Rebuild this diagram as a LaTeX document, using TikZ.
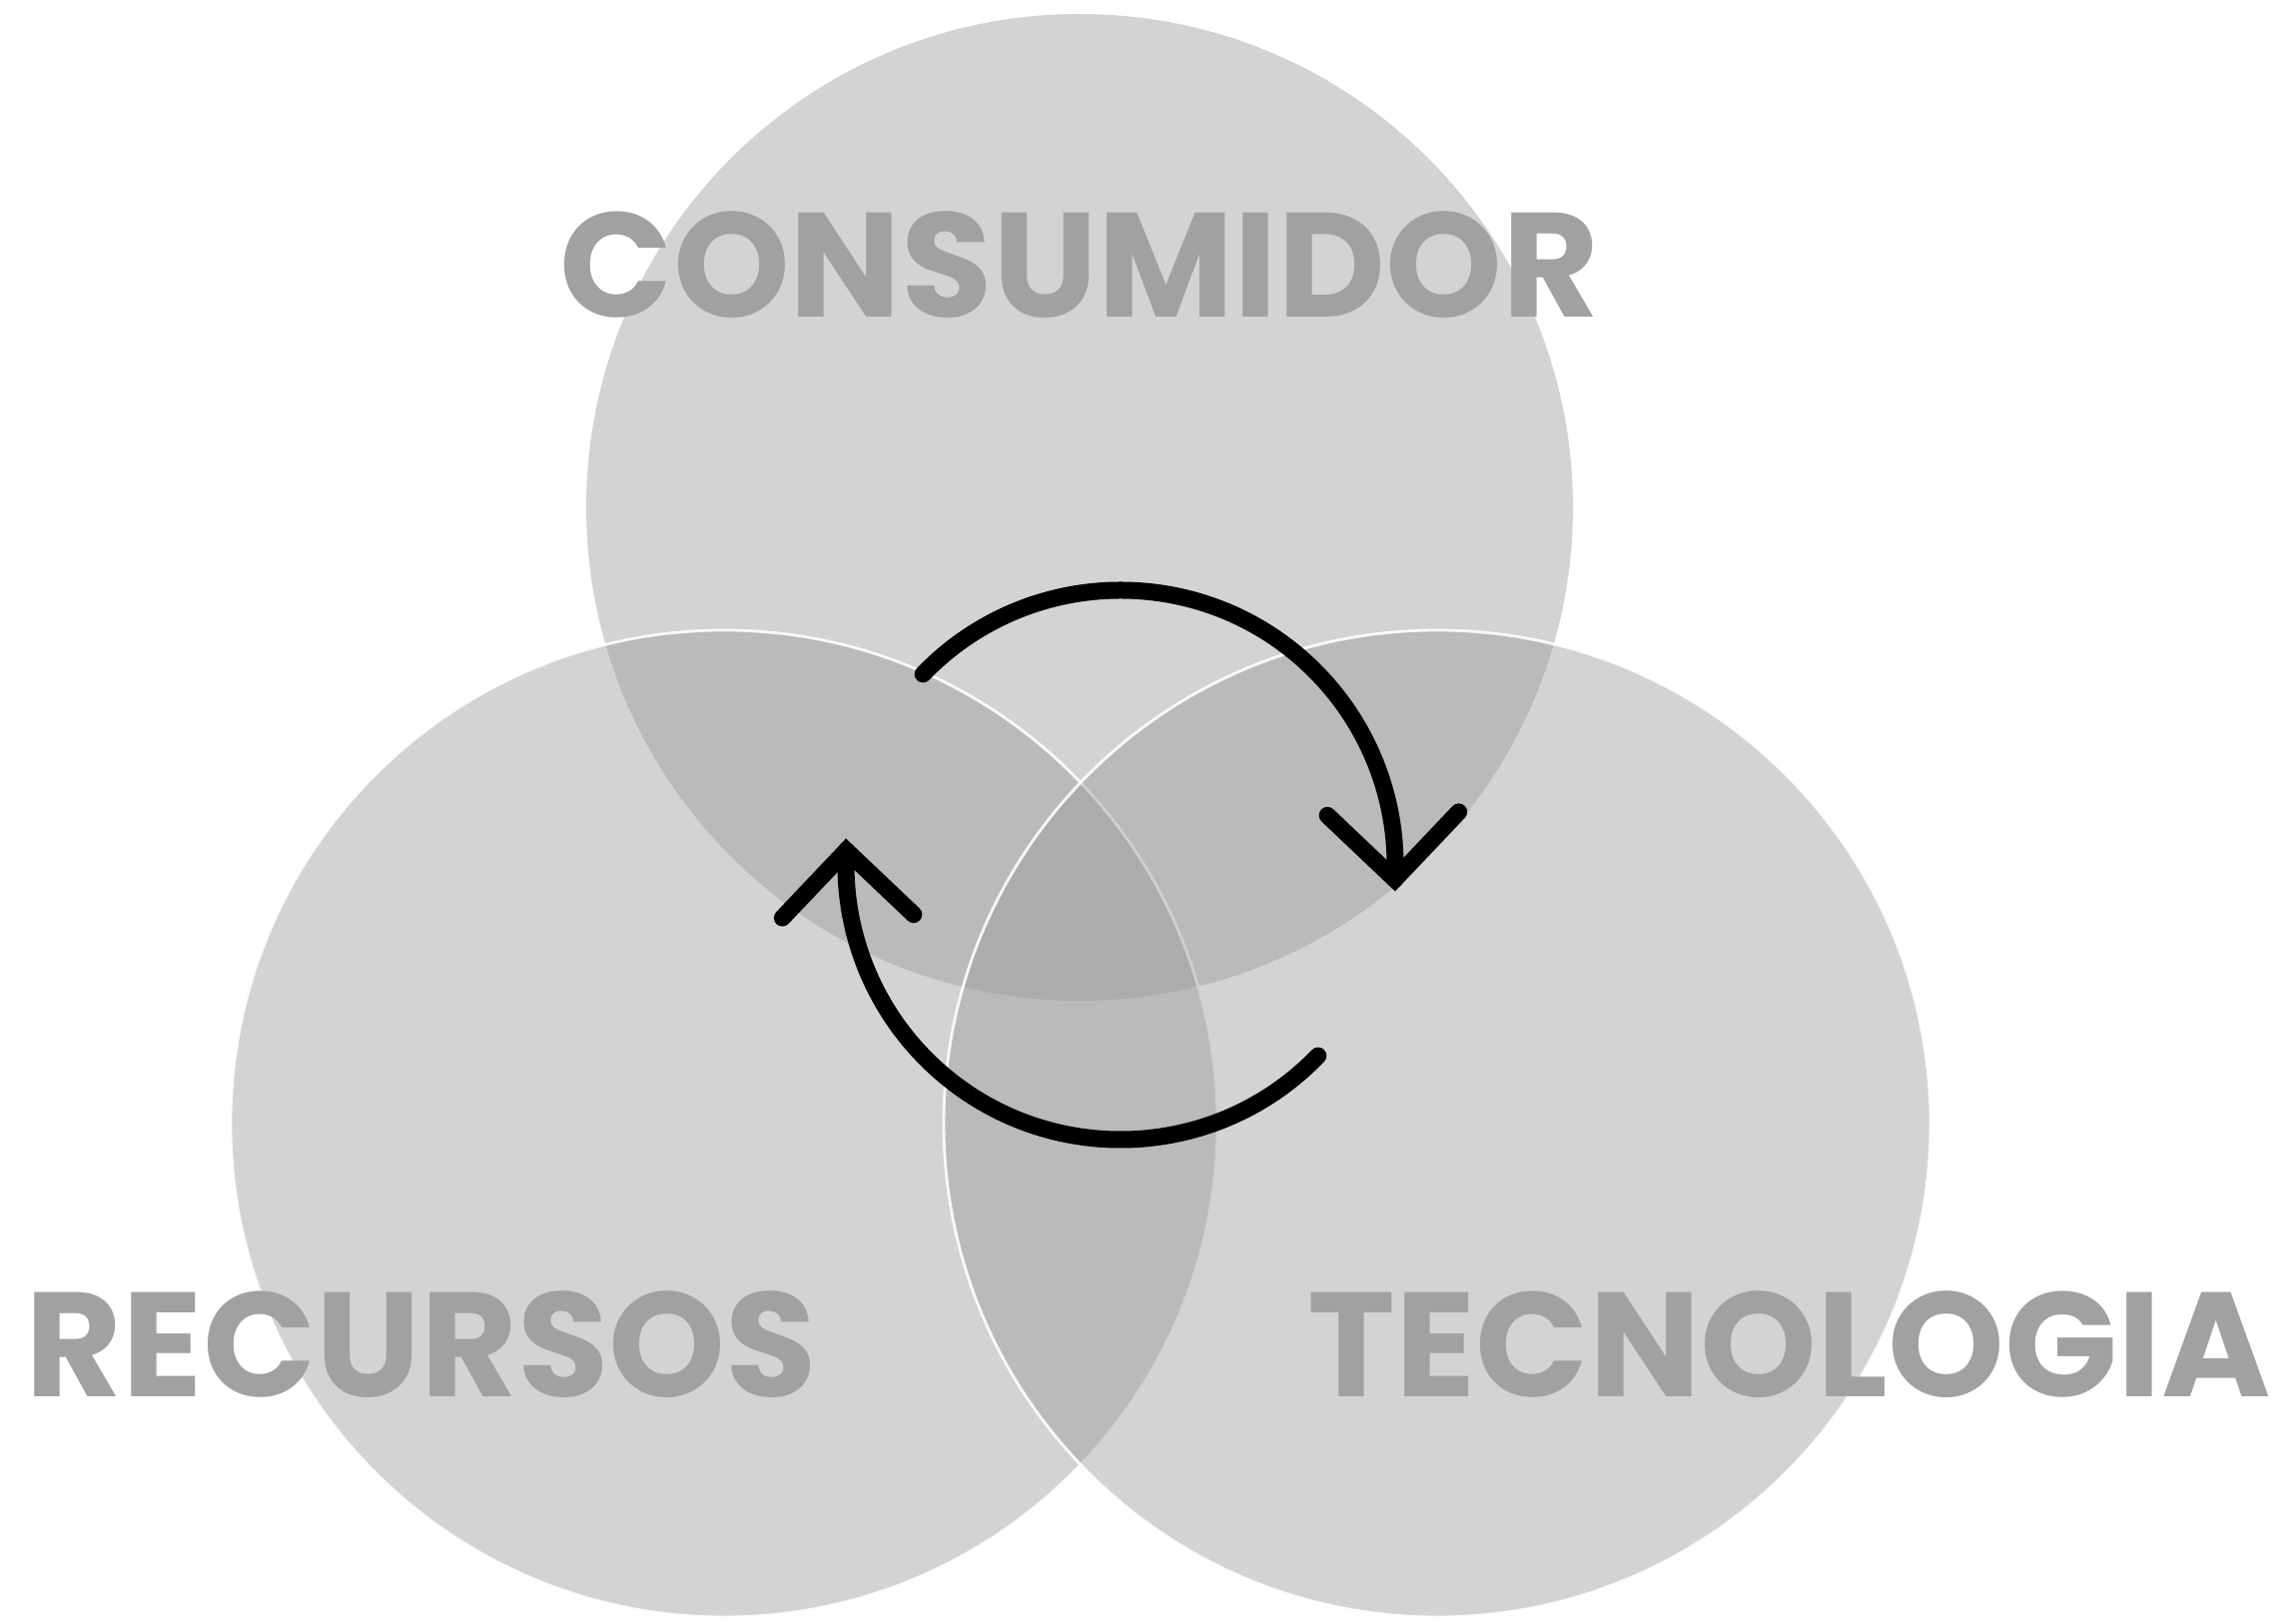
\documentclass[tikz,border=0pt]{standalone}
\usepackage{fontspec}
\usepackage{tikz}
\usetikzlibrary{positioning}
\newfontfamily\vennfont{Poppins}
\definecolor{venngray}{RGB}{153,153,153}
\definecolor{labelgray}{RGB}{161,161,161}

\begin{document}
\begin{tikzpicture}[
    venn/.style={circle,fill=venngray,fill opacity=0.43,minimum size=9.88cm,inner sep=0pt},
    rim/.style={draw=white,draw opacity=0.9,line width=0.8pt},
    setlabel/.style={text=labelgray,font=\vennfont\bfseries\fontsize{42.3}{43}\selectfont,inner sep=0pt},
    cyclearc/.style={draw=black,line width=0.17cm,line cap=round},
    cyclehead/.style={cyclearc,line join=miter}
]
\useasboundingbox (0,0) rectangle (22.90,16.25);

% Circles
\node[venn] (consumidor) at (10.81,11.17) {};
\node[venn,rim] (recursos) at (7.25,5.00) {};
\node[venn,rim] (tecnologia) at (14.39,5.00) {};

% Labels
\node[setlabel,anchor=base] (lconsumidor) at (10.81,13.07) {CONSUMIDOR};
\node[setlabel,anchor=base west] (lrecursos) at (0.25,2.27) {RECURSOS};
\node[setlabel,anchor=base east] (ltecnologia) at (22.75,2.27) {TECNOLOGIA};

% Cycle
\coordinate (loop) at (11.22,7.59);
\draw[cyclearc] (loop) ++(136:2.75) arc[start angle=136,end angle=-3,radius=2.75] coordinate (tipa);
\draw[cyclearc] (loop) ++(-44:2.75) arc[start angle=-44,end angle=-183,radius=2.75] coordinate (tipb);
\draw[cyclehead] (tipa) ++(136.5:0.93) -- (tipa) -- ++(46.5:0.93);
\draw[cyclehead] (tipb) ++(-43.5:0.93) -- (tipb) -- ++(-133.5:0.93);

\end{tikzpicture}
\end{document}
